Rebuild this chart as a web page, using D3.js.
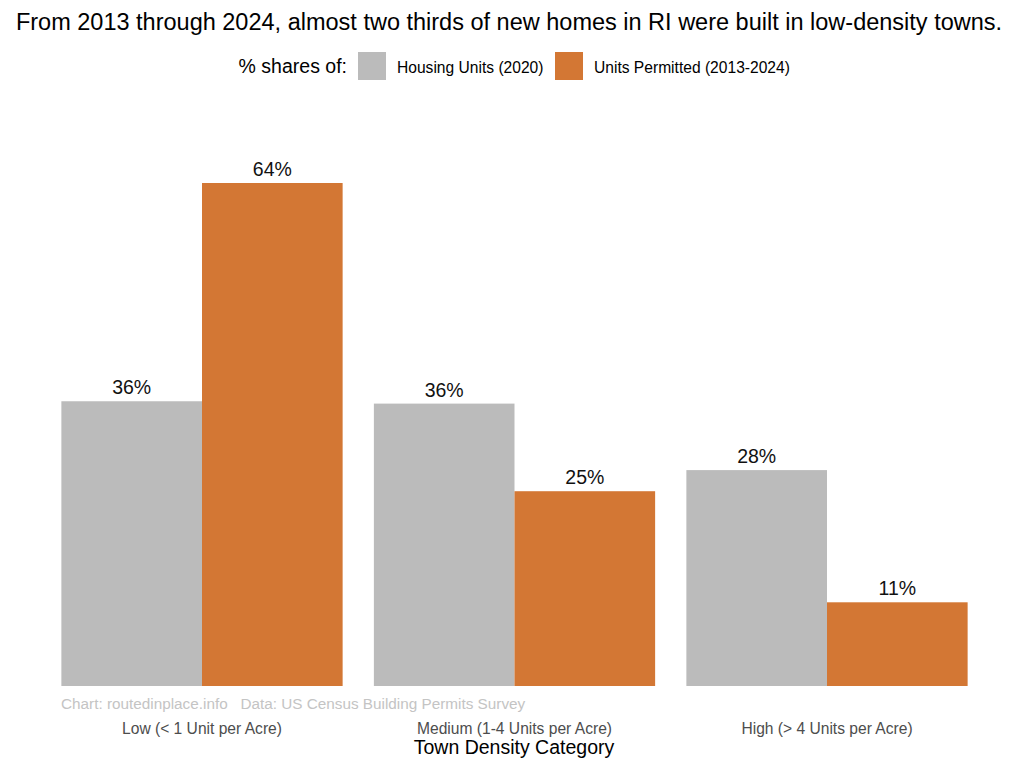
<!DOCTYPE html>
<html><head><meta charset="utf-8">
<script src="https://cdn.jsdelivr.net/npm/d3@7"></script>
<style>body{margin:0;background:#fff}svg{display:block;font-family:"Liberation Sans",Arial,sans-serif}</style>
</head><body>
<svg id="c" width="1024" height="768"></svg>
<script>
const categories = ["Low (< 1 Unit per Acre)", "Medium (1-4 Units per Acre)", "High (> 4 Units per Acre)"];
const seriesNames = ["Housing Units (2020)", "Units Permitted (2013-2024)"];
const housingUnits = [36.4, 36.1, 27.6];
const unitsPermitted = [64.3, 24.9, 10.7];
const colors = ["#bbbbbb", "#d37734"];

const svg = d3.select("#c");
const x = d3.scaleBand().domain(categories).range([45.75, 983.25]).paddingInner(0.1).paddingOuter(0.05);
const xs = d3.scaleBand().domain(seriesNames).range([0, x.bandwidth()]);
const y = d3.scaleLinear().domain([0, 64.3]).range([686, 183]);
const color = d3.scaleOrdinal().domain(seriesNames).range(colors);

const rows = [];
categories.forEach((c, i) => {
  rows.push({cat: c, s: seriesNames[0], v: housingUnits[i]});
  rows.push({cat: c, s: seriesNames[1], v: unitsPermitted[i]});
});

svg.append("text").attr("x", 509).attr("y", 30).attr("text-anchor", "middle")
  .attr("font-size", 23.5).attr("fill", "#000")
  .text("From 2013 through 2024, almost two thirds of new homes in RI were built in low-density towns.");

// legend
const lg = svg.append("g");
lg.append("text").attr("x", 347).attr("y", 73).attr("text-anchor", "end").attr("font-size", 19.5).text("% shares of:");
const legItems = [{s: seriesNames[0], x: 358}, {s: seriesNames[1], x: 555}];
legItems.forEach(d => {
  lg.append("rect").attr("x", d.x).attr("y", 52).attr("width", 28).attr("height", 28).attr("fill", color(d.s));
  lg.append("text").attr("x", d.x + 39).attr("y", 73).attr("font-size", 15.6).attr("fill", "#000").text(d.s);
});

const g = svg.append("g");
g.selectAll("rect.bar").data(rows).join("rect").attr("class", "bar")
  .attr("x", d => x(d.cat) + xs(d.s))
  .attr("width", xs.bandwidth())
  .attr("y", d => y(d.v))
  .attr("height", d => y(0) - y(d.v))
  .attr("fill", d => color(d.s));

g.selectAll("text.lab").data(rows).join("text").attr("class", "lab")
  .attr("x", d => x(d.cat) + xs(d.s) + xs.bandwidth() / 2)
  .attr("y", d => y(d.v) - 7)
  .attr("text-anchor", "middle").attr("font-size", 19.5).attr("fill", "#111")
  .text(d => Math.round(d.v) + "%");

// caption
svg.append("text").attr("x", 61).attr("y", 708.5).attr("font-size", 15.3).attr("fill", "#c4c4c4")
  .style("white-space", "pre")
  .text("Chart: routedinplace.info   Data: US Census Building Permits Survey");

// x axis
const ax = svg.append("g").attr("transform", "translate(0,686)")
  .call(d3.axisBottom(x).tickSize(0).tickPadding(0));
ax.select(".domain").remove();
ax.selectAll("text").attr("font-size", 15.6).attr("fill", "#4d4d4d")
  .attr("font-family", "Liberation Sans, Arial, sans-serif").attr("dy", null).attr("y", 47.5);

svg.append("text").attr("x", 514).attr("y", 754).attr("text-anchor", "middle").attr("font-size", 19.5).attr("fill", "#000")
  .text("Town Density Category");
</script>
</body></html>
